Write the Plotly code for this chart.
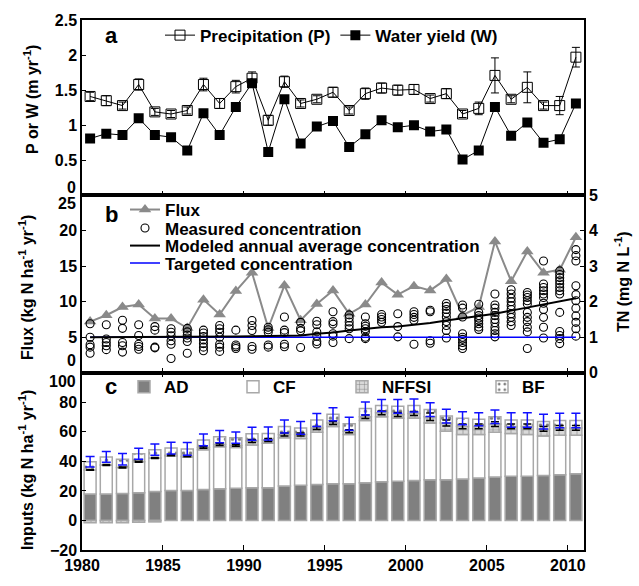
import plotly.graph_objects as go

years = list(range(1980, 2011))

# Panel a: precipitation and water yield (m/yr)
precip = [1.41, 1.35, 1.28, 1.58, 1.19, 1.16, 1.21, 1.58, 1.31, 1.55, 1.67, 1.07, 1.62, 1.31, 1.37,
          1.47, 1.21, 1.45, 1.53, 1.50, 1.51, 1.38, 1.45, 1.16, 1.24, 1.71, 1.37, 1.54, 1.28, 1.28, 1.97]
precip_err = [0.06, 0.07, 0.05, 0.08, 0.05, 0.05, 0.05, 0.09, 0.07, 0.09, 0.09, 0.07, 0.08, 0.05, 0.05,
              0.07, 0.05, 0.08, 0.07, 0.07, 0.07, 0.05, 0.07, 0.05, 0.09, 0.25, 0.05, 0.22, 0.05, 0.13, 0.14]
water_yield = [0.81, 0.88, 0.86, 1.10, 0.86, 0.83, 0.64, 1.17, 0.86, 1.26, 1.60, 0.62, 1.37, 0.74, 0.98,
               1.06, 0.69, 0.87, 1.07, 0.97, 1.00, 0.91, 0.94, 0.51, 0.64, 1.26, 0.85, 1.04, 0.75, 0.80, 1.31]

# Panel b: flux (kg N/ha/yr) and concentrations (mg N/L)
flux = [7.2, 8.1, 9.25, 9.6, 7.65, 7.65, 6.3, 10.3, 8.2, 11.5, 14.1, 6.3, 12.3, 7.4, 9.7,
        11.6, 8.3, 9.6, 12.7, 11.0, 12.2, 11.6, 13.2, 8.1, 9.25, 18.5, 12.9, 17.1, 14.1, 14.5, 19.1]
measured_conc = [
    [1.38, 1.0, 0.79, 0.72, 0.55],
    [1.35, 0.95, 0.85, 0.76, 0.65],
    [1.48, 1.25, 0.85, 0.76, 0.58],
    [1.35, 1.05, 0.80, 0.74, 0.66],
    [1.30, 1.20, 0.72, 0.70],
    [1.24, 1.14, 1.04, 0.90, 0.80, 0.40],
    [1.25, 1.15, 1.06, 0.98, 0.88, 0.55],
    [1.20, 1.12, 1.02, 0.92, 0.82, 0.72, 0.62],
    [1.33, 1.24, 1.14, 1.00, 0.80, 0.72, 0.60],
    [1.20, 0.78, 0.73, 0.68],
    [1.47, 1.33, 1.19, 0.74, 0.66],
    [1.28, 1.21, 1.14, 0.78, 0.72],
    [1.57, 1.20, 1.13, 0.80, 0.73],
    [1.42, 1.25, 1.18, 0.71],
    [1.45, 1.35, 1.15, 1.03, 0.88, 0.81],
    [1.72, 1.44, 1.37, 1.10, 1.03, 0.85],
    [1.63, 1.54, 1.43, 1.33, 1.24, 0.96],
    [1.57, 1.38, 1.31, 1.24, 1.16, 1.00, 0.96],
    [1.64, 1.57, 1.50, 1.42],
    [1.66, 1.30, 1.01],
    [1.72, 1.64, 1.56, 1.48, 0.80],
    [1.76, 1.72, 0.90, 0.83],
    [1.95, 1.87, 1.78, 1.68, 1.57, 1.44, 1.33, 1.19, 0.98],
    [1.91, 1.82, 1.57, 1.10, 1.00, 0.94, 0.85, 0.76, 0.68],
    [1.93, 1.70, 1.61, 1.54, 1.47, 1.38, 1.29, 1.22],
    [2.22, 1.91, 1.82, 1.70, 1.61, 1.50, 1.41, 1.28, 1.19, 1.10, 1.01],
    [2.34, 2.22, 2.10, 2.00, 1.89, 1.78, 1.66, 1.56, 1.44, 1.33],
    [2.26, 2.19, 2.12, 2.03, 1.94, 1.70, 1.56, 1.44, 1.28, 1.15, 0.68],
    [3.15, 2.50, 2.40, 2.31, 2.22, 2.12, 1.96, 1.78, 1.56, 1.28, 0.98],
    [2.87, 2.77, 2.68, 2.59, 2.50, 2.40, 2.31, 2.22, 1.70, 1.16, 1.05, 0.96, 0.82],
    [3.47, 3.30, 3.15, 2.45, 2.20, 2.03, 1.82, 1.60, 1.42, 1.24, 1.03],
]
modeled_conc = [1.0, 1.0, 1.0, 1.0, 1.0, 1.0, 1.0, 1.01, 1.01, 1.02, 1.03, 1.04, 1.04, 1.05, 1.10,
                1.13, 1.19, 1.24, 1.28, 1.30, 1.34, 1.40, 1.47, 1.53, 1.60, 1.66, 1.75, 1.84, 1.93, 2.02, 2.10]
target_conc = 1.0

# Panel c: N inputs (kg N/ha/yr)
AD = [17.9, 17.9, 18.3, 18.8, 19.6, 20.3, 20.3, 20.9, 21.4, 21.8, 22.2, 22.2, 23.3, 23.8, 24.4,
      24.9, 24.9, 25.5, 26.2, 26.6, 27.0, 27.5, 27.5, 28.1, 28.8, 29.4, 29.9, 29.9, 30.5, 30.9, 31.6]
CF = [16.3, 19.6, 17.5, 20.9, 22.7, 23.3, 22.7, 27.0, 28.5, 27.5, 28.8, 30.1, 32.7, 31.6, 35.3,
      38.7, 33.3, 42.1, 44.0, 42.5, 42.1, 38.4, 32.9, 30.1, 29.4, 30.3, 29.0, 28.3, 26.6, 26.7, 26.0]
NFFSI = [-1.5, -1.5, -1.5, -1.2, -1.0, 0.5, 0.5, 1.5, 1.5, 1.5, 2.8, 2.2, 2.2, 2.8, 2.9,
         2.3, 2.2, 2.6, 2.6, 2.6, 3.3, 4.3, 5.5, 5.4, 5.4, 5.5, 4.7, 5.4, 4.8, 5.0, 5.0]
NFFSI_err = [0.3, 0.3, 0.3, 0.3, 0.3, 0.4, 0.4, 0.6, 0.6, 0.6, 1.0, 1.0, 1.0, 1.0, 1.0,
             1.0, 1.0, 1.2, 1.2, 1.4, 1.4, 2.5, 2.0, 1.6, 1.6, 1.6, 1.6, 1.6, 1.6, 1.6, 1.6]
BF = [5.5, 5.5, 5.6, 5.4, 5.6, 4.9, 4.9, 5.1, 5.3, 5.2, 4.9, 4.4, 5.4, 4.4, 5.4,
      6.0, 5.0, 5.5, 5.0, 5.5, 5.4, 4.8, 4.7, 5.5, 4.9, 5.0, 4.4, 4.4, 5.0, 5.0, 5.0]
total_err = [3.6, 3.6, 3.9, 3.7, 3.8, 4.0, 4.3, 4.0, 4.1, 3.8, 4.4, 4.4, 4.4, 4.3, 4.4,
             4.4, 4.4, 4.4, 4.0, 4.6, 4.4, 4.6, 4.6, 4.4, 4.4, 4.6, 4.9, 4.9, 5.0, 4.9, 4.9]

xpos = [y + 0.5 for y in years]

BOLD = dict(family="Liberation Sans, Arial, sans-serif", size=16, color="black", weight="bold")
LEGFONT = dict(BOLD, size=17)
H_PLOT = 544.0
W_PLOT = 502.0
L, T = 82, 20


def px_x(x):
    return (x - L) / W_PLOT


def px_y(y):
    return 1 - (y - T) / H_PLOT


fig = go.Figure()

# ---- panel a
fig.add_trace(go.Scatter(x=xpos, y=precip, mode="lines+markers", name="Precipitation (P)",
                         line=dict(color="black", width=1),
                         marker=dict(symbol="square-open", size=10, color="black", line=dict(width=1)),
                         error_y=dict(type="data", array=precip_err, color="black", thickness=1, width=4),
                         xaxis="x", yaxis="y", legend="legend"))
fig.add_trace(go.Scatter(x=xpos, y=water_yield, mode="lines+markers", name="Water yield (W)",
                         line=dict(color="black", width=1),
                         marker=dict(symbol="square", size=10, color="black"),
                         xaxis="x", yaxis="y", legend="legend"))

# ---- panel b
fig.add_trace(go.Scatter(x=xpos, y=flux, mode="lines+markers", name="Flux",
                         line=dict(color="#8a8a8a", width=2),
                         marker=dict(symbol="triangle-up", size=11, color="#8a8a8a"),
                         xaxis="x2", yaxis="y2", legend="legend2"))
cx, cy = [], []
for xv, vals in zip(xpos, measured_conc):
    for v in vals:
        cx.append(xv)
        cy.append(v)
fig.add_trace(go.Scatter(x=cx, y=cy, mode="markers", name="Measured concentration",
                         marker=dict(symbol="circle-open", size=8, color="black", line=dict(width=1.1)),
                         xaxis="x2", yaxis="y4", legend="legend5"))
fig.add_trace(go.Scatter(x=[xpos[0], xpos[-1]], y=[target_conc, target_conc], mode="lines",
                         name="Targeted concentration", line=dict(color="#0000ff", width=1.5),
                         xaxis="x2", yaxis="y4", legend="legend7"))
fig.add_trace(go.Scatter(x=xpos, y=modeled_conc, mode="lines",
                         name="Modeled annual average concentration", line=dict(color="black", width=2),
                         xaxis="x2", yaxis="y4", legend="legend6"))

# ---- panel c
bar_line = dict(color="#a8a8a8", width=1.5)
W_BAR = 0.74
fig.add_trace(go.Bar(x=xpos, y=AD, name="AD", width=W_BAR,
                     marker=dict(color="#808080", line=bar_line),
                     xaxis="x3", yaxis="y3", legend="legend3"))
fig.add_trace(go.Bar(x=xpos, y=CF, name="CF", width=W_BAR,
                     marker=dict(color="white", line=bar_line),
                     xaxis="x3", yaxis="y3", legend="legend8"))
fig.add_trace(go.Bar(x=xpos, y=NFFSI, name="NFFSI", width=W_BAR,
                     marker=dict(color="#d9d9d9", line=bar_line,
                                 pattern=dict(shape="+", fgcolor="black", bgcolor="#d9d9d9",
                                              size=6, solidity=0.15)),
                     xaxis="x3", yaxis="y3", legend="legend9"))
fig.add_trace(go.Bar(x=xpos, y=BF, name="BF", width=W_BAR,
                     marker=dict(color="white", line=bar_line,
                                 pattern=dict(shape=".", fgcolor="black", bgcolor="white",
                                              size=7, solidity=0.2)),
                     xaxis="x3", yaxis="y3", legend="legend4"))

nffsi_top = [a + c + max(n, 0) for a, c, n in zip(AD, CF, NFFSI)]
totals = [a + c + max(n, 0) + b for a, c, n, b in zip(AD, CF, NFFSI, BF)]
fig.add_trace(go.Scatter(x=xpos, y=nffsi_top, mode="markers", showlegend=False,
                         marker=dict(size=1, opacity=0),
                         error_y=dict(type="data", array=NFFSI_err, color="black", thickness=1.5, width=4),
                         xaxis="x3", yaxis="y3"))
fig.add_trace(go.Scatter(x=xpos, y=totals, mode="markers", showlegend=False,
                         marker=dict(size=1, opacity=0),
                         error_y=dict(type="data", array=total_err, color="#1010ff", thickness=1.5, width=4.5),
                         xaxis="x3", yaxis="y3"))

# ---- axes
dc = 182.0 / H_PLOT
db = 364.0 / H_PLOT
xt = dict(range=[1980, 2011], tickvals=list(range(1980, 2011, 5)), ticks="inside", ticklen=5,
          tickcolor="black", tickwidth=1, showline=True, linecolor="black", linewidth=1.5,
          showgrid=False, zeroline=False)
yt = dict(ticks="inside", ticklen=4, tickcolor="black", tickwidth=1, showline=True,
          linecolor="black", linewidth=1.5, showgrid=False, zeroline=False,
          tickfont=BOLD)


def leg(xpx, ypx):
    return dict(x=px_x(xpx), y=px_y(ypx), xanchor="left", yanchor="middle", orientation="h",
                bgcolor="rgba(0,0,0,0)", font=LEGFONT, itemwidth=30)


fig.update_layout(
    width=639, height=586,
    margin=dict(l=L, r=55, t=T, b=22),
    plot_bgcolor="white", paper_bgcolor="white",
    font=BOLD,
    barmode="relative",
    xaxis=dict(xt, domain=[0, 1], anchor="y", showticklabels=False, mirror=True),
    xaxis2=dict(xt, domain=[0, 1], anchor="y2", showticklabels=False, mirror=True),
    xaxis3=dict(xt, domain=[0, 1], anchor="y3", showticklabels=True, mirror="ticks",
                tickfont=BOLD),
    yaxis=dict(yt, domain=[db, 1], range=[0, 2.5], tickvals=[0.5, 1, 1.5, 2, 2.5],
               ticktext=["0.5", "1", "1.5", "2", "2.5"], mirror=True),
    yaxis2=dict(yt, domain=[dc, db], range=[0, 25], tickvals=[5, 10, 15, 20]),
    yaxis4=dict(yt, range=[0, 5], tickvals=[0, 1, 2, 3, 4, 5], overlaying="y2", side="right",
                anchor="x2"),
    yaxis3=dict(yt, domain=[0, dc], range=[-20, 100], tickvals=[-20, 0, 20, 40, 60, 80],
                mirror=True),
    legend=leg(160, 36),
    legend2=leg(125, 215),
    legend5=leg(125, 234),
    legend6=leg(125, 252),
    legend7=leg(125, 270),
    legend3=leg(124, 397),
    legend8=leg(233, 397),
    legend9=leg(342, 397),
    legend4=leg(482, 397),
)

ann = []


def edge_label(text, yref, yval, shift):
    ann.append(dict(text=text, xref="paper", x=0, xanchor="right", xshift=-4, yref=yref, y=yval,
                    yanchor="middle", yshift=shift, showarrow=False, font=BOLD))


edge_label("0", "y", 0, 8)
edge_label("25", "y2", 25, -8)
edge_label("0", "y2", 0, 12)
edge_label("100", "y3", 100, -9)


def vtitle(text, x, y):
    ann.append(dict(text=text, xref="paper", yref="paper", x=x, y=y, textangle=-90,
                    showarrow=False, font=BOLD, xanchor="center", yanchor="middle"))


vtitle("P or W (m yr<sup>-1</sup>)", px_x(31), px_y(102))
vtitle("Flux (kg N ha<sup>-1</sup> yr<sup>-1</sup>)", px_x(26), px_y(295))
vtitle("Inputs (kg N ha<sup>-1</sup> yr<sup>-1</sup>)", px_x(26), px_y(482))
vtitle("TN (mg N L<sup>-1</sup>)", px_x(622), px_y(289))

for letter, ypx in [("a", 36), ("b", 220), ("c", 396)]:
    ann.append(dict(text=letter, xref="paper", yref="paper", x=px_x(111), y=px_y(ypx),
                    showarrow=False, xanchor="center", yanchor="middle",
                    font=dict(BOLD, size=22)))

fig.update_layout(annotations=ann)
fig.write_html("out.html", config={"displayModeBar": False},
               post_script="document.body.style.margin='0px';")
